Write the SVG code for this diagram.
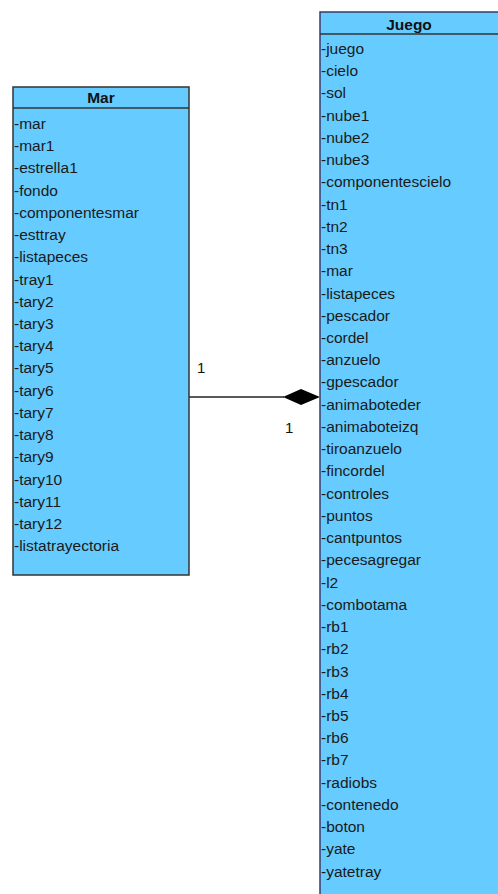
<svg xmlns="http://www.w3.org/2000/svg" width="498" height="894" viewBox="0 0 498 894">
<style>
.box{fill:#66ccff;stroke:#333;stroke-width:1.5}
.sep{stroke:#333;stroke-width:1.5}
.h{font-family:"Liberation Sans",Arial,sans-serif;font-size:15.5px;font-weight:bold;fill:#111;text-anchor:middle}
.a{font-family:"Liberation Sans",Arial,sans-serif;font-size:15.5px;fill:#1a1a1a}
.lbl{font-family:"Liberation Sans",Arial,sans-serif;font-size:15px;fill:#111}
</style>
<rect width="498" height="894" fill="#fff"/>
<g id="connectors">
<line x1="189" y1="397" x2="284" y2="397" stroke="#222" stroke-width="1.5"/>
<polygon points="283,397 301,389 320,397 301,405" fill="#000"/>
<text class="lbl" x="197" y="373">1</text>
<text class="lbl" x="285" y="433">1</text>
</g>
<g id="Mar">
<rect class="box" x="13" y="87" width="176" height="488"/>
<line class="sep" x1="13" y1="108" x2="189" y2="108"/>
<text class="h" x="101" y="103">Mar</text>
<g class="a">
<text x="14" y="129">-mar</text>
<text x="14" y="151">-mar1</text>
<text x="14" y="173">-estrella1</text>
<text x="14" y="196">-fondo</text>
<text x="14" y="218">-componentesmar</text>
<text x="14" y="240">-esttray</text>
<text x="14" y="262">-listapeces</text>
<text x="14" y="285">-tray1</text>
<text x="14" y="307">-tary2</text>
<text x="14" y="329">-tary3</text>
<text x="14" y="351">-tary4</text>
<text x="14" y="373">-tary5</text>
<text x="14" y="396">-tary6</text>
<text x="14" y="418">-tary7</text>
<text x="14" y="440">-tary8</text>
<text x="14" y="462">-tary9</text>
<text x="14" y="485">-tary10</text>
<text x="14" y="507">-tary11</text>
<text x="14" y="529">-tary12</text>
<text x="14" y="551">-listatrayectoria</text>
</g>
</g>
<g id="Juego">
<rect class="box" x="320" y="12" width="200" height="900" style="stroke:#3a3a6a"/>
<line class="sep" x1="320" y1="34" x2="498" y2="34"/>
<text class="h" x="409" y="30">Juego</text>
<g class="a">
<text x="321" y="54">-juego</text>
<text x="321" y="76">-cielo</text>
<text x="321" y="98">-sol</text>
<text x="321" y="121">-nube1</text>
<text x="321" y="143">-nube2</text>
<text x="321" y="165">-nube3</text>
<text x="321" y="187">-componentescielo</text>
<text x="321" y="210">-tn1</text>
<text x="321" y="232">-tn2</text>
<text x="321" y="254">-tn3</text>
<text x="321" y="276">-mar</text>
<text x="321" y="299">-listapeces</text>
<text x="321" y="321">-pescador</text>
<text x="321" y="343">-cordel</text>
<text x="321" y="365">-anzuelo</text>
<text x="321" y="387">-gpescador</text>
<text x="321" y="410">-animaboteder</text>
<text x="321" y="432">-animaboteizq</text>
<text x="321" y="454">-tiroanzuelo</text>
<text x="321" y="476">-fincordel</text>
<text x="321" y="499">-controles</text>
<text x="321" y="521">-puntos</text>
<text x="321" y="543">-cantpuntos</text>
<text x="321" y="565">-pecesagregar</text>
<text x="321" y="588">-l2</text>
<text x="321" y="610">-combotama</text>
<text x="321" y="632">-rb1</text>
<text x="321" y="654">-rb2</text>
<text x="321" y="677">-rb3</text>
<text x="321" y="699">-rb4</text>
<text x="321" y="721">-rb5</text>
<text x="321" y="743">-rb6</text>
<text x="321" y="765">-rb7</text>
<text x="321" y="788">-radiobs</text>
<text x="321" y="810">-contenedo</text>
<text x="321" y="832">-boton</text>
<text x="321" y="854">-yate</text>
<text x="321" y="877">-yatetray</text>
</g>
</g>
</svg>
